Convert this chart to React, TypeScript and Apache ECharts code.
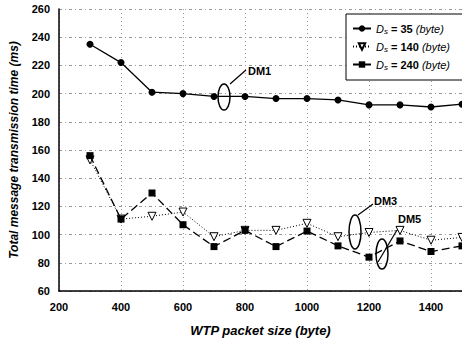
import React, { useEffect, useRef } from "react";
import * as echarts from "echarts";

const packetSizes = [300, 400, 500, 600, 700, 800, 900, 1000, 1100, 1200, 1300, 1400, 1500];
const ds35 = [235, 222, 201, 200, 198, 198, 196.5, 196.5, 195.5, 192, 192, 190.5, 192.5];
const ds140 = [153, 111, 113, 116, 98.5, 103, 103, 108, 98.5, 101.5, 103, 96, 98];
const ds240 = [156, 111, 129.5, 107, 91.5, 103, 91.5, 102.5, 92, 84, 95.5, 88, 92];
const seriesNames = ["Ds35", "Ds140", "Ds240"];
const seriesLabels = ["35", "140", "240"];

const FONT = "Liberation Sans, Arial, sans-serif";

export default function App() {
  const ref = useRef<HTMLDivElement>(null);
  useEffect(() => {
    const chart = echarts.init(ref.current!, undefined, { renderer: "svg" });
    const pair = (arr: number[]) => packetSizes.map((x, i) => [x, arr[i]]);
    chart.setOption({
      animation: false,
      backgroundColor: "#ffffff",
      textStyle: { fontFamily: FONT },
      grid: { left: 59, right: 0, top: 9, bottom: 50 },
      legend: {
        orient: "vertical",
        left: 346,
        top: 14,
        padding: [9, 20, 9, 6],
        itemGap: 6,
        itemWidth: 18,
        itemHeight: 8,
        borderColor: "#000",
        borderWidth: 1,
        backgroundColor: "#fff",
        data: seriesNames,
        formatter: (name: string) => {
          const idx = seriesNames.indexOf(name);
          return `{i|D}{s|s}{n| = ${seriesLabels[idx]} }{i|(byte)}`;
        },
        textStyle: {
          fontFamily: FONT,
          fontSize: 11,
          color: "#000",
          rich: {
            i: { fontStyle: "italic", fontSize: 11, fontFamily: FONT, color: "#000" },
            s: { fontStyle: "italic", fontSize: 8, fontFamily: FONT, color: "#000", padding: [5, 0, 0, 0] },
            n: { fontSize: 11, fontFamily: FONT, color: "#000", fontWeight: "bold" },
          },
        },
      },
      xAxis: {
        type: "value",
        min: 200,
        max: 1500,
        interval: 200,
        name: "WTP packet size (byte)",
        nameLocation: "middle",
        nameGap: 33,
        nameTextStyle: { fontFamily: FONT, fontSize: 13, fontWeight: "bold", fontStyle: "italic", color: "#000" },
        axisLine: { lineStyle: { color: "#000", width: 1.5 } },
        axisTick: { show: false },
        axisLabel: {
          fontFamily: FONT,
          fontSize: 11,
          fontWeight: "bold",
          color: "#000",
          showMaxLabel: false,
          margin: 10,
          formatter: (v: number) => String(v),
        },
        splitLine: { lineStyle: { color: "#999", type: [1, 3], width: 1 } },
      },
      yAxis: {
        type: "value",
        min: 60,
        max: 260,
        interval: 20,
        name: "Total message transmission time (ms)",
        nameLocation: "middle",
        nameGap: 39,
        nameTextStyle: { fontFamily: FONT, fontSize: 12, fontWeight: "bold", fontStyle: "italic", color: "#000" },
        axisLine: { show: true, lineStyle: { color: "#000", width: 1.5 } },
        axisTick: { show: false },
        axisLabel: { fontFamily: FONT, fontSize: 11, fontWeight: "bold", color: "#000", margin: 9 },
        splitLine: { lineStyle: { color: "#999", type: [3, 3, 1, 3], width: 1 } },
      },
      series: [
        {
          name: seriesNames[0],
          type: "line",
          data: pair(ds35),
          symbol: "circle",
          symbolSize: 7,
          color: "#000",
          lineStyle: { color: "#000", width: 1.3, type: "solid" },
          itemStyle: { color: "#000" },
          z: 3,
        },
        {
          name: seriesNames[1],
          type: "line",
          data: pair(ds140),
          symbol: "triangle",
          symbolRotate: 180,
          symbolSize: 8,
          color: "#000",
          lineStyle: { color: "#000", width: 1, type: [1, 2] },
          itemStyle: { color: "#fff", borderColor: "#000", borderWidth: 1 },
          z: 2,
        },
        {
          name: seriesNames[2],
          type: "line",
          data: pair(ds240),
          symbol: "rect",
          symbolSize: 7,
          color: "#000",
          lineStyle: { color: "#000", width: 1.3, type: [8, 4] },
          itemStyle: { color: "#000" },
          z: 3,
        },
      ],
      graphic: [
        { type: "ellipse", shape: { cx: 224, cy: 97, rx: 6, ry: 13 }, style: { fill: "none", stroke: "#000", lineWidth: 1.5 }, z: 10 },
        { type: "line", shape: { x1: 230, y1: 84, x2: 246, y2: 70 }, style: { stroke: "#000", lineWidth: 1.2 }, z: 10 },
        { type: "text", x: 248, y: 71, style: { text: "DM1", fontFamily: FONT, fontSize: 11, fontWeight: "bold", fill: "#000", verticalAlign: "middle" }, z: 10 },
        { type: "ellipse", shape: { cx: 355, cy: 232, rx: 6, ry: 17 }, style: { fill: "none", stroke: "#000", lineWidth: 1.5 }, z: 10 },
        { type: "line", shape: { x1: 358, y1: 215, x2: 373, y2: 204 }, style: { stroke: "#000", lineWidth: 1.2 }, z: 10 },
        { type: "text", x: 374, y: 201, style: { text: "DM3", fontFamily: FONT, fontSize: 11, fontWeight: "bold", fill: "#000", verticalAlign: "middle" }, z: 10 },
        { type: "ellipse", shape: { cx: 382, cy: 254, rx: 6, ry: 15 }, style: { fill: "none", stroke: "#000", lineWidth: 1.5 }, z: 10 },
        { type: "line", shape: { x1: 378, y1: 262, x2: 397, y2: 230 }, style: { stroke: "#000", lineWidth: 1.2 }, z: 10 },
        { type: "text", x: 398, y: 219, style: { text: "DM5", fontFamily: FONT, fontSize: 11, fontWeight: "bold", fill: "#000", verticalAlign: "middle" }, z: 10 },
      ],
    });
    return () => chart.dispose();
  }, []);
  return <div ref={ref} style={{ width: 462, height: 342, position: "absolute", left: 0, top: 0 }} />;
}
